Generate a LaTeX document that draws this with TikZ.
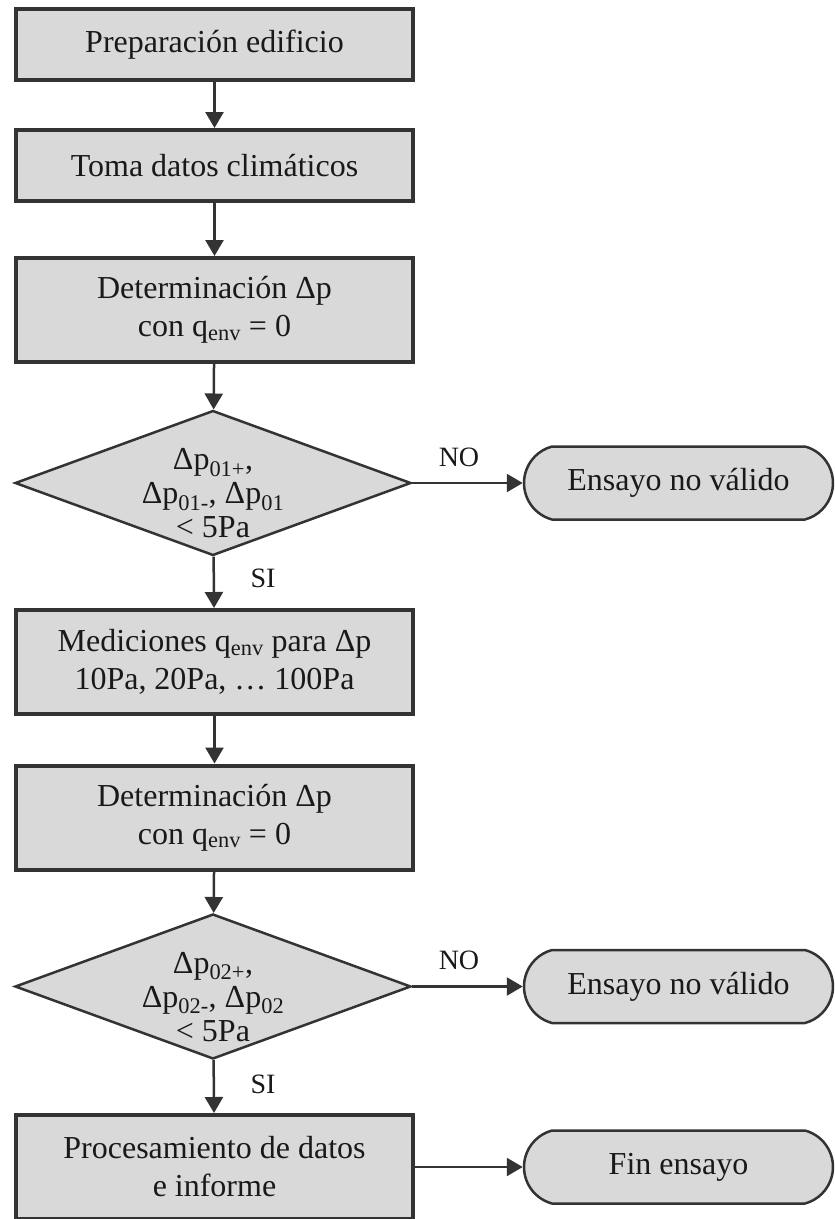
\documentclass[tikz,border=0pt]{standalone}
\usepackage{fontspec}
\setmainfont{Liberation Serif}
\usetikzlibrary{shapes.geometric,shapes.misc,arrows.meta}
\definecolor{boxfill}{RGB}{217,217,217}
\definecolor{boxline}{RGB}{51,51,51}

\begin{document}
\begin{tikzpicture}[
    x=1pt, y=-1pt,
    every node/.style={font=\fontsize{32}{38}\selectfont, text=black!90},
    process/.style={rectangle, draw=boxline, fill=boxfill, line width=4pt, minimum width=397pt, minimum height=71pt, align=center, inner sep=0pt},
    decision/.style={diamond, draw=boxline, fill=boxfill, line width=2.5pt, minimum width=396pt, minimum height=145pt, align=center, inner sep=-30pt, font=\fontsize{32}{34}\selectfont},
    terminal/.style={rounded rectangle, rounded rectangle arc length=150, draw=boxline, fill=boxfill, line width=2.5pt, minimum width=309pt, minimum height=73pt, inner sep=0pt},
    answer/.style={font=\fontsize{28}{32}\selectfont},
    arrow/.style={-{Triangle[length=16pt, width=18pt]}, line width=2.5pt, draw=boxline}
]
    \useasboundingbox (0,0) rectangle (835,1219);

    % Main column
    \node[process] (prep) at (214.5, 44.5) {Preparación edificio};
    \node[process] (clima) at (214.5, 165.5) {Toma datos climáticos};
    \node[process, minimum height=104pt] (det1) at (214.5, 310) {Determinación Δp\\con q\textsubscript{env} = 0};
    \node[decision] (dec1) at (213, 483) {\rule{0pt}{42pt}Δp\textsubscript{01+},\\Δp\textsubscript{01-}, Δp\textsubscript{01}\\< 5Pa};
    \node[process, minimum height=104pt] (med) at (214.5, 662) {Mediciones q\textsubscript{env} para Δp\\10Pa, 20Pa, … 100Pa};
    \node[process, minimum height=104pt] (det2) at (214.5, 817.5) {Determinación Δp\\con q\textsubscript{env} = 0};
    \node[decision] (dec2) at (213, 986.5) {\rule{0pt}{42pt}Δp\textsubscript{02+},\\Δp\textsubscript{02-}, Δp\textsubscript{02}\\< 5Pa};
    \node[process, minimum height=104pt] (proc) at (214.5, 1167) {Procesamiento de datos\\e informe};

    % End states
    \node[terminal] (inv1) at (678.5, 483) {Ensayo no válido};
    \node[terminal] (inv2) at (678.5, 986.5) {Ensayo no válido};
    \node[terminal] (fin) at (678.5, 1167) {Fin ensayo};

    % Answers
    \node[answer] (no1) at (459, 457) {NO};
    \node[answer] (si1) at (263, 578) {SI};
    \node[answer] (no2) at (459, 960) {NO};
    \node[answer] (si2) at (263, 1084) {SI};

    % Arrows
    \draw[arrow] (prep) -- (clima);
    \draw[arrow] (clima) -- (det1);
    \draw[arrow] (det1) -- (dec1);
    \draw[arrow] (dec1) -- (med);
    \draw[arrow] (med) -- (det2);
    \draw[arrow] (det2) -- (dec2);
    \draw[arrow] (dec2) -- (proc);
    \draw[arrow] (dec1.east) -- (inv1.west);
    \draw[arrow] (dec2.east) -- (inv2.west);
    \draw[arrow] (proc.east) -- (fin.west);
\end{tikzpicture}
\end{document}
